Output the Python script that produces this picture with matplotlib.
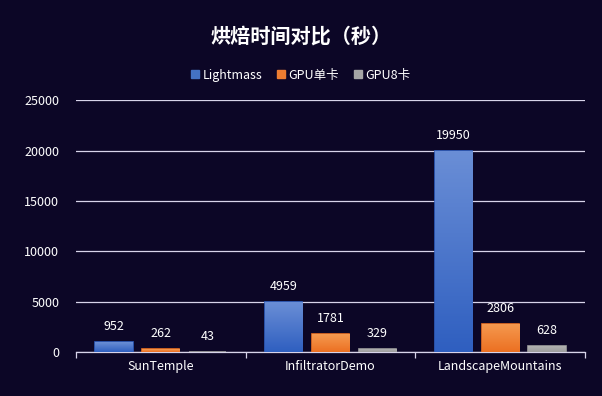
import numpy as np
import matplotlib
matplotlib.use('Agg')
import matplotlib.pyplot as plt
from matplotlib.colors import LinearSegmentedColormap

plt.rcParams['font.family'] = ['Noto Sans CJK SC', 'DejaVu Sans']

### Data ###
scenes = ['SunTemple', 'InfiltratorDemo', 'LandscapeMountains']
series = ['Lightmass', 'GPU单卡', 'GPU8卡']
lightmass = [952, 4959, 19950]
gpu1 = [262, 1781, 2806]
gpu8 = [43, 329, 628]
yticks = [0, 5000, 10000, 15000, 20000, 25000]

bg = '#0c0626'
# (top colour, bottom colour) for each series
grads = [('#6a8ed6', '#2f5fc0'), ('#f59a50', '#ec7022'), ('#b4b4b4', '#9e9e9e')]
legend_cols = ['#4472c4', '#ed7d31', '#a5a5a5']

fig = plt.figure(figsize=(6.02, 3.96), dpi=100, facecolor=bg)
ax = fig.add_axes([0.126, 0.111, 0.846, 0.636], facecolor=bg)

x = np.arange(len(scenes))
w = 0.22
step = 0.275
for i, (name, vals) in enumerate(zip(series, [lightmass, gpu1, gpu8])):
    # edge keeps very small bars visible
    bars = ax.bar(x + (i - 1) * step, vals, w, color=grads[i][1], edgecolor=grads[i][1],
                  linewidth=1.2, label=name, zorder=2)
    cmap = LinearSegmentedColormap.from_list('g%d' % i, [grads[i][1], grads[i][0]])
    for b, v in zip(bars, vals):
        x0, y0 = b.get_x(), b.get_y()
        img = ax.imshow(np.linspace(0, 1, 100).reshape(-1, 1), cmap=cmap, origin='lower',
                        extent=[x0, x0 + b.get_width(), y0, y0 + b.get_height()],
                        aspect='auto', zorder=2.5)
        img.set_clip_path(b)
        ax.text(b.get_x() + b.get_width() / 2, v + 900, str(v), ha='center', va='bottom',
                color='white', fontsize=9)

ax.set_xlim(-0.5, 2.5)
ax.set_ylim(0, 25000)
ax.set_yticks(yticks)
ax.set_yticklabels([str(t) for t in yticks], color='white', fontsize=9)
ax.grid(axis='y', color='#d8d4ea', linewidth=0.9, zorder=0)
ax.tick_params(axis='y', length=0, pad=12)

ax.set_xticks(x)
ax.set_xticklabels(scenes, color='white', fontsize=9)
ax.set_xticks([-0.5, 0.5, 1.5, 2.5], minor=True)
ax.tick_params(axis='x', which='major', length=0, pad=6)
ax.tick_params(axis='x', which='minor', length=4, color='#d8d4ea', width=0.9)
for s in ['top', 'right', 'left']:
    ax.spines[s].set_visible(False)
ax.spines['bottom'].set_color('#d8d4ea')
ax.spines['bottom'].set_linewidth(0.9)
ax.spines['bottom'].set_zorder(1)

fig.text(0.5, 0.91, '烘焙时间对比（秒）', ha='center', va='center', color='white',
         fontsize=14.5, fontweight='bold')

handles = [plt.Rectangle((0, 0), 1, 1, color=c) for c in legend_cols]
fig.legend(handles, series, loc='center', bbox_to_anchor=(0.5, 0.81), ncol=3, frameon=False,
           fontsize=9, labelcolor='white', handlelength=0.6, handleheight=0.6,
           handletextpad=0.3, columnspacing=1.2)

fig.savefig('out.png', dpi=100, facecolor=bg)
